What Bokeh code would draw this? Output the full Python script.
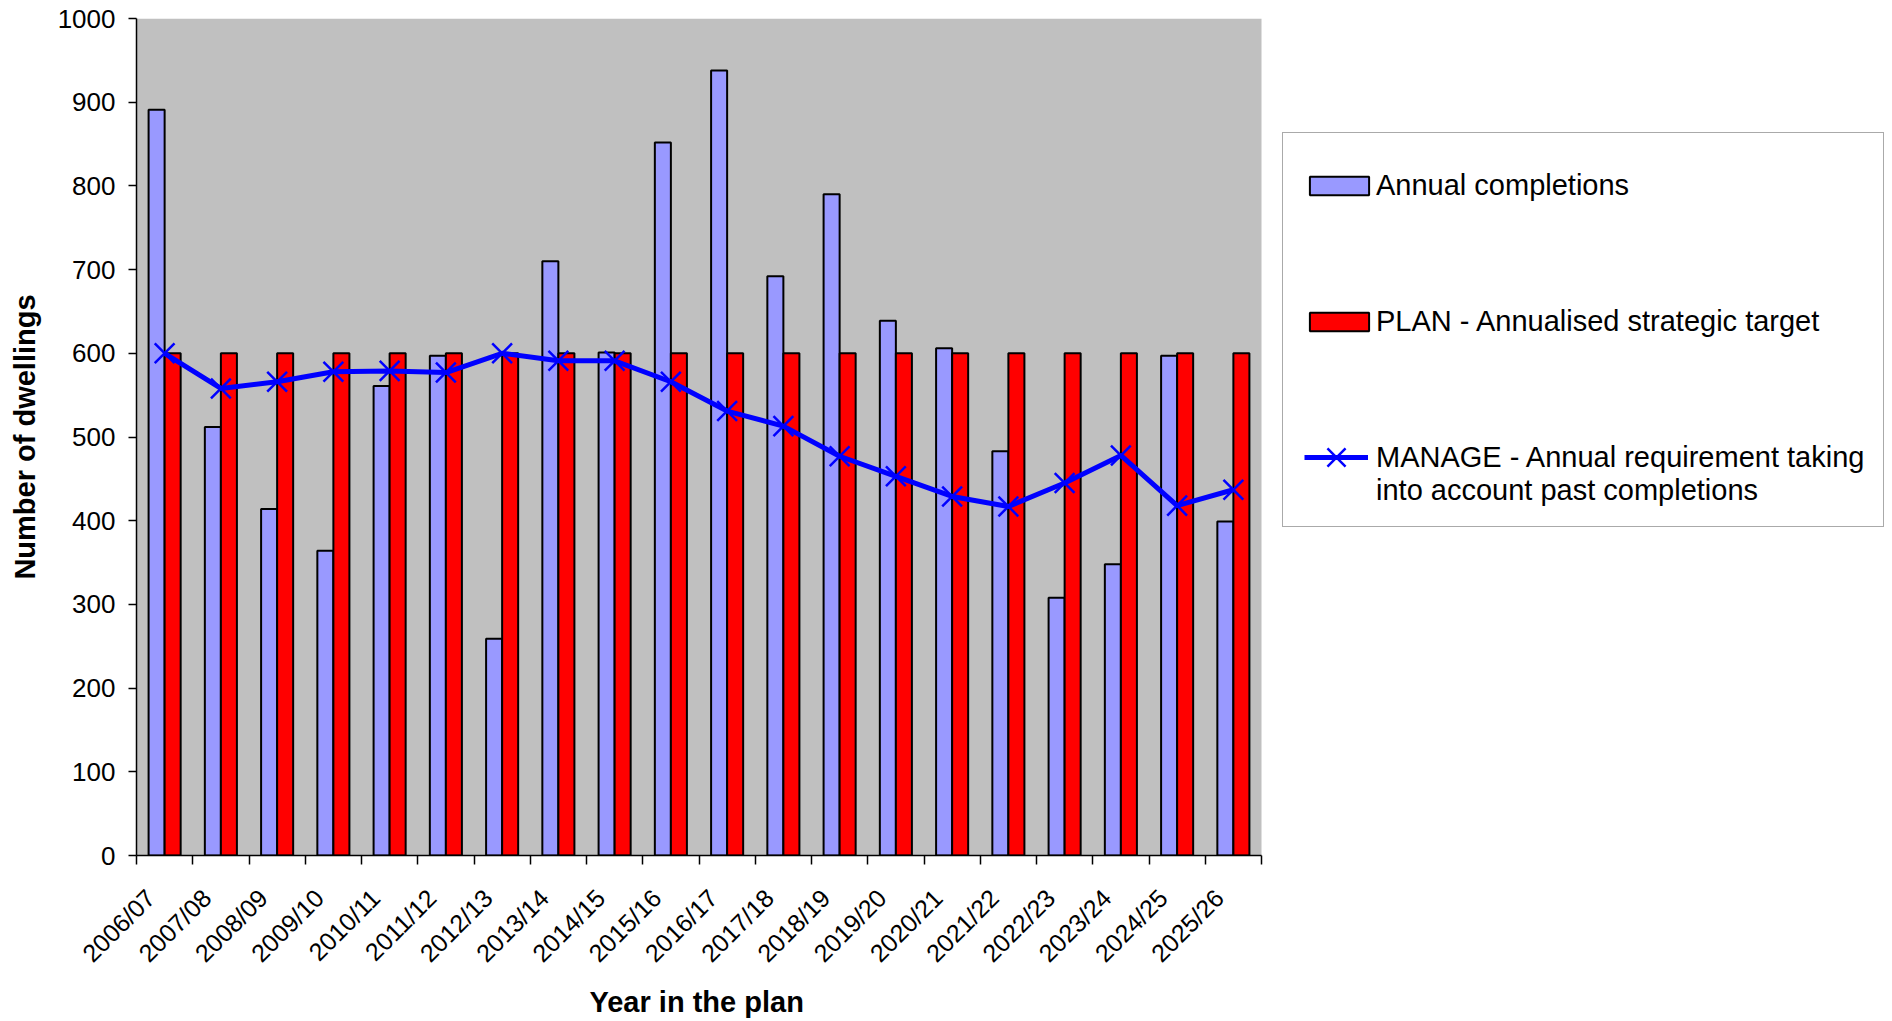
import numpy as np
from bokeh.plotting import figure
from bokeh.models import Range1d, FixedTicker, Legend, LegendItem, BoxAnnotation, Title
from bokeh.embed import file_html
from bokeh.resources import INLINE

# data
years = ["2006/07", "2007/08", "2008/09", "2009/10", "2010/11", "2011/12", "2012/13",
         "2013/14", "2014/15", "2015/16", "2016/17", "2017/18", "2018/19", "2019/20",
         "2020/21", "2021/22", "2022/23", "2023/24", "2024/25", "2025/26"]
completions = [891, 512, 414, 364, 561, 597, 259, 710, 601, 852,
               938, 692, 790, 639, 606, 483, 308, 348, 597, 399]
plan = [600, 600, 600, 600, 600, 600, 600, 600, 600, 600,
        600, 600, 600, 600, 600, 600, 600, 600, 600, 600]
manage = [600, 558, 566, 578, 579, 577, 600, 591, 591, 566,
          531, 513, 477, 453, 429, 417, 445, 478, 418, 437]
y_ticks = [0, 100, 200, 300, 400, 500, 600, 700, 800, 900, 1000]

FONT = "Liberation Sans"
W, H = 1892, 1021
LEFT, TOP, BOTTOM = 136, 18, 855     # frame edges in px
PLOT_RIGHT = 1261                    # where the grey plot area ends

n = len(years)
pos = np.arange(n) + 0.5   # category centres
bw = 0.285                 # width of one bar in category units
lab_pos = pos - 0.25       # rotated labels sit a little left of the centre

# the frame runs to the right edge so that the legend beside the plot is not clipped;
# the grey area and the x axis stop at the last category
x_end = n * (W - LEFT) / (PLOT_RIGHT - LEFT)

p = figure(width=W, height=H,
           x_range=Range1d(0, x_end), y_range=Range1d(0, 1000),
           output_backend="svg", toolbar_location=None,
           min_border_left=LEFT, min_border_right=0,
           min_border_top=TOP, min_border_bottom=H - BOTTOM)

p.background_fill_color = "white"
p.border_fill_color = "white"
p.outline_line_color = None
p.grid.visible = False
p.add_layout(BoxAnnotation(left=0, right=n, bottom=0, top=1000,
                           fill_color="#C0C0C0", fill_alpha=1,
                           line_color=None, level="underlay"))

r_comp = p.vbar(x=pos - bw / 2, top=completions, width=bw,
                fill_color="#9999FF", line_color="black", line_width=2)
r_plan = p.vbar(x=pos + bw / 2, top=plan, width=bw,
                fill_color="#FF0000", line_color="black", line_width=2)
r_line = p.line(pos, manage, line_color="#0000FF", line_width=5)
r_mark = p.scatter(pos, manage, marker="x", size=28,
                   line_color="#0000FF", line_width=2.5)
# empty stand-in so the MANAGE text gets a slot in the legend box
r_proxy = p.line(x=[], y=[], line_alpha=0)

# x axis: labels near category centres, tick marks between categories
p.xaxis.bounds = (0, n)
p.xaxis.ticker = FixedTicker(ticks=list(lab_pos), minor_ticks=list(range(n + 1)))
p.xaxis.major_label_overrides = {float(x): y for x, y in zip(lab_pos, years)}
p.xaxis.major_label_orientation = np.pi / 4
p.xaxis.major_tick_line_color = None
p.xaxis.major_tick_out = 0
p.xaxis.minor_tick_out = 9
p.xaxis.minor_tick_in = 0
p.xaxis.minor_tick_line_color = "black"
p.xaxis.major_label_standoff = 29
p.xaxis.major_label_text_font_size = "25px"

p.yaxis.ticker = FixedTicker(ticks=y_ticks)
p.yaxis.major_tick_out = 8
p.yaxis.major_tick_in = 0
p.yaxis.minor_tick_line_color = None
p.yaxis.major_label_standoff = 13
p.yaxis.major_label_text_font_size = "26px"
p.yaxis.axis_label = "Number of dwellings"
p.yaxis.axis_label_standoff = 14

for ax in (p.xaxis, p.yaxis):
    ax.axis_line_color = "black"
    ax.axis_line_width = 1.5
    ax.major_tick_line_width = 1.5
    ax.minor_tick_line_width = 1.5
    ax.major_label_text_font = FONT
    ax.major_label_text_color = "black"
    ax.axis_label_text_font = FONT
    ax.axis_label_text_font_size = "29px"
    ax.axis_label_text_font_style = "bold"
    ax.axis_label_text_color = "black"

# x axis title, centred under the categories rather than the whole frame
p.add_layout(Title(text="Year in the plan", align="left", offset=453, standoff=7,
                   text_font=FONT, text_font_size="29px", text_font_style="bold",
                   text_color="black"), "below")

# legend box beside the plot
legend = Legend(items=[
    LegendItem(label="Annual completions", renderers=[r_comp]),
    LegendItem(label="PLAN - Annualised strategic target", renderers=[r_plan]),
    LegendItem(label="MANAGE - Annual requirement taking\ninto account past completions",
               renderers=[r_proxy]),
], location=(1282 - LEFT, BOTTOM - 527))
legend.title = " "
legend.title_text_font_size = "8px"
legend.title_standoff = 8
legend.padding = 19
legend.spacing = 103
legend.margin = 0
legend.glyph_width = 74
legend.glyph_height = 23
legend.label_standoff = 0
legend.label_text_font = FONT
legend.label_text_font_size = "29px"
legend.label_text_color = "black"
legend.border_line_color = "#555555"
legend.border_line_width = 1.5
legend.background_fill_color = "white"
legend.background_fill_alpha = 1
p.add_layout(legend)

# line-and-cross key for MANAGE, level with the first text line
key = Legend(items=[LegendItem(label=" ", renderers=[r_line, r_mark])],
             location=(1304 - LEFT, BOTTOM - 489))
key.padding = 0
key.margin = 0
key.glyph_width = 64
key.glyph_height = 64
key.label_standoff = 0
key.label_text_font_size = "2px"
key.border_line_color = None
key.background_fill_alpha = 0
p.add_layout(key)

open("out.html", "w").write(file_html(p, INLINE))
